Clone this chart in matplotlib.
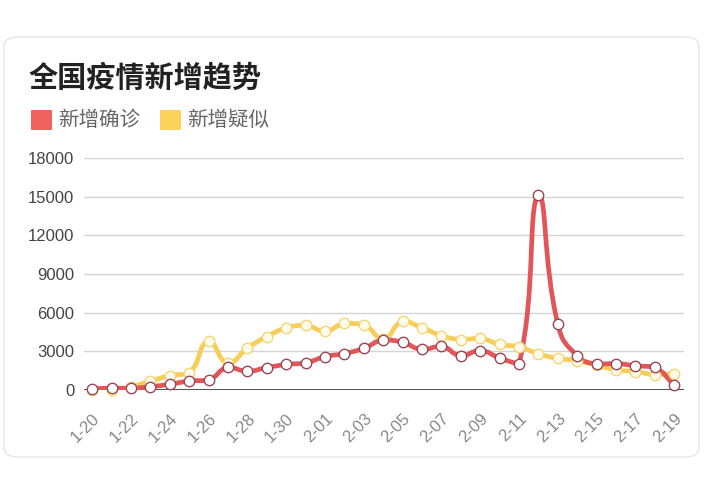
import matplotlib
matplotlib.use("Agg")
import matplotlib.pyplot as plt
import numpy as np
from matplotlib.path import Path
from matplotlib.patches import PathPatch, FancyBboxPatch

dates = ["1-20","1-21","1-22","1-23","1-24","1-25","1-26","1-27","1-28","1-29","1-30","1-31",
         "2-01","2-02","2-03","2-04","2-05","2-06","2-07","2-08","2-09","2-10","2-11","2-12",
         "2-13","2-14","2-15","2-16","2-17","2-18","2-19"]
confirmed = [77,149,131,259,444,688,769,1771,1459,1737,1982,2102,2590,2829,3235,3887,3694,3143,
             3399,2656,3062,2478,2015,15152,5090,2641,2008,2048,1886,1749,394]
suspected = [27,26,257,680,1118,1309,3806,2077,3248,4148,4812,5019,4562,5173,5072,3971,5328,4833,
             4214,3916,4008,3536,3342,2807,2450,2277,1918,1563,1432,1185,1277]
series_names = ["新增确诊", "新增疑似"]
yticks = [0,3000,6000,9000,12000,15000,18000]
title = "全国疫情新增趋势"

W, H = 704, 483
fig = plt.figure(figsize=(W/100, H/100), dpi=100)
fig.patch.set_facecolor("white")

def fx(px): return px / W
def fy(py): return 1 - py / H

# card
card = FancyBboxPatch((fx(4), fy(457)), fx(699)-fx(4), fy(37)-fy(457),
                      boxstyle="round,pad=0,rounding_size=0.02", transform=fig.transFigure,
                      facecolor="white", edgecolor="#e6e6e6", linewidth=1.0, zorder=-5)
fig.patches.append(card)

cjk = ["Noto Sans CJK SC", "DejaVu Sans"]
fig.text(fx(29), fy(78), title, fontsize=21, fontweight="bold", color="#222222",
         family=cjk, va="center", ha="left")

leg_colors = ["#f2625c", "#fdd25b"]
leg_x = [31, 160]
for name, col, lx in zip(series_names, leg_colors, leg_x):
    fig.patches.append(FancyBboxPatch((fx(lx), fy(130)), fx(21), fy(110)-fy(130),
                                      boxstyle="round,pad=0,rounding_size=0.002",
                                      transform=fig.transFigure, facecolor=col,
                                      edgecolor="none"))
    fig.text(fx(lx+27), fy(120), name, fontsize=14.8, color="#666666", family=cjk,
             va="center", ha="left")

ax = fig.add_axes([fx(84), fy(390), fx(684)-fx(84), fy(158)-fy(390)])
ax.set_zorder(2)
ax.patch.set_visible(False)
ax.set_xlim(-0.42, 30.5)
ax.set_ylim(0, 18000)
for s in ax.spines.values():
    s.set_visible(False)
ax.set_yticks(yticks)
ax.set_yticklabels([str(v) for v in yticks], fontsize=12, color="#444444", family="Liberation Sans")
ax.tick_params(axis="y", length=0, pad=7)
ax.grid(axis="y", color="#d4d4d4", linewidth=1.0)
ax.set_axisbelow(True)
ax.axhline(0, color="#333333", linewidth=1.2, zorder=2)

x = np.arange(len(dates))
ax.set_xticks(x[::2])
ax.set_xticklabels(dates[::2], rotation=45, ha="right", va="top", rotation_mode="anchor",
                   fontsize=12, color="#888888", family="Liberation Sans")
ax.tick_params(axis="x", length=0, pad=15)

sx = 19.4
sy = 232 / 18000.0

def smooth_path(xs, ys, smooth=0.5):
    pts = np.column_stack([xs, ys]).astype(float)
    n = len(pts)
    verts = [tuple(pts[0])]
    codes = [Path.MOVETO]
    cps_prev = []
    cps_next = []
    for i in range(n):
        p = pts[i]
        prev = pts[i-1] if i > 0 else p
        nxt = pts[i+1] if i < n-1 else p
        v = nxt - prev
        d0 = np.hypot((p[0]-prev[0])*sx, (p[1]-prev[1])*sy)
        d1 = np.hypot((nxt[0]-p[0])*sx, (nxt[1]-p[1])*sy)
        r = d1 / (d0 + d1) if (d0 + d1) > 0 else 0.5
        cn = p + v * smooth * r
        cp = p - v * smooth * (1 - r)
        cn = np.minimum(cn, np.maximum(nxt, p)); cn = np.maximum(cn, np.minimum(nxt, p))
        cp = np.minimum(cp, np.maximum(prev, p)); cp = np.maximum(cp, np.minimum(prev, p))
        cps_prev.append(cp); cps_next.append(cn)
    for i in range(n-1):
        verts += [tuple(cps_next[i]), tuple(cps_prev[i+1]), tuple(pts[i+1])]
        codes += [Path.CURVE4]*3
    return Path(verts, codes)

line_colors = ["#e15759", "#f7cd58"]
edge_colors = ["#9a4656", "#f2d778"]
data = [confirmed, suspected]
zl = [4, 3]
for vals, lc, zz in zip(data, line_colors, zl):
    ax.add_patch(PathPatch(smooth_path(x, vals), facecolor="none", edgecolor=lc,
                           linewidth=3.4, capstyle="round", joinstyle="round", zorder=zz))
for vals, ec, fc, zz in zip(data[::-1], edge_colors[::-1], ["#fffbea", "white"], [5, 6]):
    ax.plot(x, vals, linestyle="none", marker="o", markersize=7.5, markerfacecolor=fc,
            markeredgecolor=ec, markeredgewidth=1.0, zorder=zz, clip_on=False)

fig.savefig("out.png", dpi=100, facecolor="white")
